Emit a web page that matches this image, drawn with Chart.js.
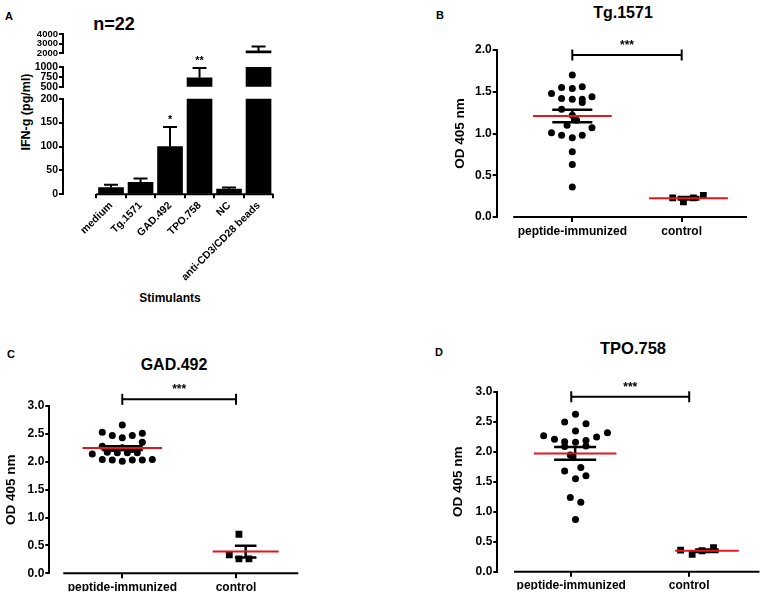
<!DOCTYPE html>
<html>
<head>
<meta charset="utf-8">
<script src="https://cdn.jsdelivr.net/npm/chart.js@4.4.0/dist/chart.umd.min.js"></script>
<style>
body { margin: 0; background: #fff; }
#wrap { position: relative; width: 767px; height: 598px; overflow: hidden; background: #fff;
        font-family: "Liberation Sans", Arial, sans-serif; font-weight: bold; color: #000; }
canvas { position: absolute; }
.lbl { position: absolute; white-space: nowrap; transform: translate(-50%, -50%); line-height: 1; }
.rot { transform: translate(-50%, -50%) rotate(-90deg); }
</style>
</head>
<body>
<div id="wrap">
  <div class="lbl" style="left:9px;top:16px;font-size:11px">A</div>
  <div class="lbl" style="left:114px;top:24px;font-size:18px">n=22</div>
  <div class="lbl rot" style="left:26px;top:112px;font-size:12.5px">IFN-g (pg/ml)</div>
  <div class="lbl" style="left:170px;top:298px;font-size:12px">Stimulants</div>

  <div class="lbl" style="left:440px;top:15px;font-size:11px">B</div>
  <div class="lbl" style="left:623px;top:13px;font-size:16px">Tg.1571</div>

  <div class="lbl" style="left:11px;top:354px;font-size:11px">C</div>
  <div class="lbl" style="left:174px;top:365px;font-size:16px">GAD.492</div>

  <div class="lbl" style="left:439px;top:352px;font-size:11px">D</div>
  <div class="lbl" style="left:633px;top:348px;font-size:16.5px">TPO.758</div>

  <canvas id="aTop" width="330" height="70" style="left:0;top:0"></canvas>
  <canvas id="aMid" width="330" height="45" style="left:0;top:55px"></canvas>
  <canvas id="aLow" width="330" height="215" style="left:0;top:88px"></canvas>
  <canvas id="chartB" width="327" height="220" style="left:440px;top:30px"></canvas>
  <canvas id="chartC" width="330" height="215" style="left:0;top:380px"></canvas>
  <canvas id="chartD" width="327" height="225" style="left:440px;top:370px"></canvas>
</div>
<script>
// Panel A: IFN-g (pg/ml), mean and SEM per stimulant
const stimulants = ['medium', 'Tg.1571', 'GAD.492', 'TPO.758', 'NC', 'anti-CD3/CD28 beads'];
const ifnMean = [14, 25, 100, 725, 11, 2250];
const ifnSem = [6, 8, 41, 250, 3, 450];
const ifnStars = ['', '', '*', '**', '', ''];

// Panels B-D: OD 405 nm per mouse (x = column position with scatter offset)
const groups = ['peptide-immunized', 'control'];

// Tg.1571
const tgPepX = [0, -0.19, -0.098, 0, 0.091, 0.18, -0.098, 0, 0.091, 0.091, -0.098, 0, 0.039, -0.048, 0.18, -0.19, -0.098, 0, 0.091, 0, 0, 0];
const tgPepY = [1.70, 1.48, 1.55, 1.54, 1.56, 1.44, 1.42, 1.41, 1.41, 1.37, 1.29, 1.22, 1.16, 1.10, 1.07, 1.01, 0.98, 0.95, 0.98, 0.78, 0.63, 0.36];
const tgCtrlX = [0.918, 1.016, 1.107, 1.198];
const tgCtrlY = [0.23, 0.18, 0.23, 0.26];
const tgMean = [1.21, 0.225];
const tgSem = [0.075, 0.015];

// GAD.492
const gadPepX = [0, -0.176, -0.088, 0, 0.088, 0.176, 0.176, -0.176, -0.088, 0, 0.088, -0.264, -0.132, -0.044, 0.044, 0.132, -0.176, -0.088, 0, 0.088, 0.176, 0.264];
const gadPepY = [2.66, 2.53, 2.47, 2.43, 2.47, 2.51, 2.35, 2.28, 2.24, 2.25, 2.22, 2.14, 2.17, 2.16, 2.16, 2.16, 2.04, 2.03, 2.01, 2.03, 2.03, 2.04];
const gadCtrlX = [1.026, 0.941, 1.026, 1.114];
const gadCtrlY = [0.70, 0.33, 0.26, 0.26];
const gadMean = [2.245, 0.39];
const gadSem = [0.035, 0.105];

// TPO.758
const tpoPepX = [0.036, -0.056, 0.125, 0.036, -0.234, 0.307, -0.142, -0.056, 0.036, 0.125, 0.215, -0.056, 0.125, -0.008, -0.056, 0.081, 0.036, 0.125, -0.008, 0.081, 0.036, 0.01];
const tpoPepY = [2.63, 2.50, 2.47, 2.35, 2.27, 2.32, 2.21, 2.17, 2.16, 2.19, 2.25, 2.09, 2.10, 1.95, 1.68, 1.74, 1.55, 1.60, 1.24, 1.16, 0.87, 1.92];
const tpoCtrlX = [0.927, 1.025, 1.109, 1.206];
const tpoCtrlY = [0.36, 0.29, 0.35, 0.40];
const tpoMean = [1.975, 0.35];
const tpoSem = [0.107, 0.02];

Chart.defaults.font.family = '"Liberation Sans", Arial, sans-serif';
Chart.defaults.color = '#000';

// x axis line that starts a bit right of the y axis (GraphPad style)
function axisLine(from, to) {
    return {
        id: 'axisLine',
        afterDatasetsDraw(chart) {
            const x = chart.scales.x;
            const ctx = chart.ctx;
            const y = chart.chartArea.bottom;
            ctx.save();
            ctx.strokeStyle = '#000';
            ctx.lineWidth = 2;
            ctx.beginPath();
            ctx.moveTo(x.getPixelForValue(from), y);
            ctx.lineTo(to === undefined ? chart.chartArea.right : x.getPixelForValue(to), y);
            ctx.stroke();
            ctx.restore();
        }
    };
}

// significance stars placed with the chart scales
function stars(items, size, dy, inRangeOnly) {
    return {
        id: 'stars',
        afterDatasetsDraw(chart) {
            const xs = chart.scales.x, ys = chart.scales.y;
            const ctx = chart.ctx;
            ctx.save();
            ctx.fillStyle = '#000';
            ctx.font = 'bold ' + size + 'px "Liberation Sans", Arial, sans-serif';
            ctx.textAlign = 'center';
            ctx.textBaseline = 'middle';
            items.forEach(it => {
                if (!it.text) return;
                if (inRangeOnly && (it.y < ys.min || it.y > ys.max)) return;
                ctx.fillText(it.text, xs.getPixelForValue(it.x), ys.getPixelForValue(it.y) - dy);
            });
            ctx.restore();
        }
    };
}

// Panel A is split in three pieces because of the broken y axis
function ifnChart(id, yMin, yMax, step, pad, showX) {
    const bars = stimulants.map((s, i) => ({ x: i, y: ifnMean[i] }));
    const err = [];
    const radii = [];
    stimulants.forEach((s, i) => {
        err.push({ x: i, y: ifnMean[i] }, { x: i, y: ifnMean[i] + ifnSem[i] }, { x: i, y: null });
        radii.push(0, 7, 0);
    });
    const starItems = stimulants.map((s, i) => ({ x: i, y: ifnMean[i] + ifnSem[i], text: ifnStars[i] }));

    new Chart(document.getElementById(id), {
        type: 'bar',
        data: {
            datasets: [
                {
                    type: 'line', data: err, borderColor: '#000', borderWidth: 2,
                    pointStyle: 'line', pointRadius: radii, pointBorderColor: '#000', pointBorderWidth: 2,
                    spanGaps: false, clip: 0, order: 0
                },
                { data: bars, backgroundColor: '#000', barThickness: 25, clip: 0, order: 1 }
            ]
        },
        options: {
            responsive: false,
            animation: false,
            events: [],
            layout: { padding: pad },
            plugins: { legend: { display: false }, tooltip: { enabled: false } },
            scales: {
                x: {
                    type: 'linear', min: -0.98, max: 5.5, display: showX,
                    afterBuildTicks: s => { s.ticks = stimulants.map((c, i) => ({ value: i })); },
                    afterFit: s => { if (showX) s.height = 105; },
                    ticks: {
                        callback: v => stimulants[v], autoSkip: false, minRotation: 45, maxRotation: 45,
                        font: { size: 10.5, weight: 'bold' }, padding: 1
                    },
                    grid: { drawOnChartArea: false, drawTicks: true, tickLength: 4, color: '#000', lineWidth: 2 },
                    border: { display: false }
                },
                y: {
                    min: yMin, max: yMax,
                    afterFit: s => { s.width = 63; },
                    ticks: {
                        stepSize: step, autoSkip: false, callback: v => String(v),
                        font: { size: yMin >= 2000 ? 9.5 : 10.5, weight: 'bold' }, padding: 1
                    },
                    grid: { drawOnChartArea: false, tickLength: 4, color: '#000', lineWidth: 2 },
                    border: { display: true, color: '#000', width: 2 }
                }
            }
        },
        plugins: showX ? [axisLine(-0.5, 5.5), stars(starItems, 11, 7, true)] : [stars(starItems, 11, 7, true)]
    });
}

ifnChart('aTop', 2000, 4000, 1000, { top: 34, bottom: 16.7, left: 0, right: 37.6 }, false);
ifnChart('aMid', 500, 1000, 250, { top: 12, bottom: 13.3, left: 0, right: 37.6 }, false);
ifnChart('aLow', 0, 200, 50, { top: 10.7, bottom: 3.7, left: 0, right: 37.6 }, true);

// Panels B-D: column scatter with mean (red) and SEM (black)
function odChart(id, o) {
    const meanPts = [];
    const semPts = [];
    o.mean.forEach((m, g) => {
        const c = g + o.center[g], h = o.meanHalf[g], e = o.semHalf[g], s = o.sem[g];
        meanPts.push({ x: c - h, y: m }, { x: c + h, y: m }, { x: c, y: null });
        semPts.push({ x: c - e, y: m + s }, { x: c + e, y: m + s }, { x: c, y: null },
                    { x: c - e, y: m - s }, { x: c + e, y: m - s }, { x: c, y: null },
                    { x: c, y: m - s }, { x: c, y: m + s }, { x: c, y: null });
    });

    new Chart(document.getElementById(id), {
        type: 'scatter',
        data: {
            datasets: [
                { data: meanPts, showLine: true, borderColor: '#e3161e', borderWidth: 2, pointRadius: 0, spanGaps: false },
                { data: semPts, showLine: true, borderColor: '#000', borderWidth: 2.5, pointRadius: 0, spanGaps: false },
                {
                    data: o.pepX.map((x, i) => ({ x: x, y: o.pepY[i] })),
                    pointStyle: 'circle', pointRadius: 3.5, backgroundColor: '#000', borderWidth: 0
                },
                {
                    data: o.ctrlX.map((x, i) => ({ x: x, y: o.ctrlY[i] })),
                    pointStyle: 'rect', pointRadius: 4.8, backgroundColor: '#000', borderWidth: 0
                },
                {
                    data: [{ x: 0, y: o.sigY }, { x: 1, y: o.sigY }], showLine: true,
                    borderColor: '#000', borderWidth: 2, pointStyle: 'line', rotation: 90,
                    pointRadius: 5.5, pointBorderColor: '#000', pointBorderWidth: 2, clip: false
                }
            ]
        },
        options: {
            responsive: false,
            animation: false,
            events: [],
            layout: { padding: o.pad },
            plugins: { legend: { display: false }, tooltip: { enabled: false } },
            scales: {
                x: {
                    type: 'linear', min: o.xMin, max: o.xMax,
                    afterBuildTicks: s => { s.ticks = [{ value: 0 }, { value: 1 }]; },
                    afterFit: s => { s.height = o.xH; },
                    ticks: { callback: v => groups[v], autoSkip: false, maxRotation: 0, font: { size: 12, weight: 'bold' }, padding: 2 },
                    grid: { drawOnChartArea: false, drawTicks: true, tickLength: 5, color: '#000', lineWidth: 2 },
                    border: { display: false }
                },
                y: {
                    min: 0, max: o.yMax,
                    afterFit: s => { s.width = o.yW; },
                    ticks: { stepSize: 0.5, callback: v => v.toFixed(1), font: { size: 12, weight: 'bold' }, padding: 1 },
                    grid: { drawOnChartArea: false, tickLength: 4, color: '#000', lineWidth: 2 },
                    border: { display: true, color: '#000', width: 2 },
                    title: { display: true, text: 'OD 405 nm', font: { size: 13.5, weight: 'bold' }, padding: { top: 0, bottom: 0 } }
                }
            }
        },
        plugins: [axisLine(o.lineFrom), stars([{ x: 0.5, y: o.sigY, text: '***' }], 12, 9.5, false)]
    });
}

odChart('chartB', {
    pepX: tgPepX, pepY: tgPepY, ctrlX: tgCtrlX, ctrlY: tgCtrlY, mean: tgMean, sem: tgSem,
    center: [0, 0.062], meanHalf: [0.36, 0.36], semHalf: [0.183, 0.1],
    sigY: 1.94, yMax: 2, xMin: -0.691, xMax: 1.597, lineFrom: -0.54,
    pad: { top: 20, bottom: 8, left: 11.9, right: 20 }, yW: 44.8, xH: 25
});

odChart('chartC', {
    pepX: gadPepX, pepY: gadPepY, ctrlX: gadCtrlX, ctrlY: gadCtrlY, mean: gadMean, sem: gadSem,
    center: [0, 0.085], meanHalf: [0.35, 0.29], semHalf: [0.18, 0.095],
    sigY: 3.12, yMax: 3, xMin: -0.642, xMax: 1.548, lineFrom: -0.519,
    pad: { top: 26, bottom: 3.7, left: 3.6, right: 31.7 }, yW: 45.7, xH: 18
});

odChart('chartD', {
    pepX: tpoPepX, pepY: tpoPepY, ctrlX: tpoCtrlX, ctrlY: tpoCtrlY, mean: tpoMean, sem: tpoSem,
    center: [0.033, 0.15], meanHalf: [0.35, 0.27], semHalf: [0.178, 0.1],
    sigY: 2.92, yMax: 3, xMin: -0.627, xMax: 1.596, lineFrom: -0.485,
    pad: { top: 22, bottom: 5.3, left: 9.9, right: 3.7 }, yW: 47.4, xH: 18
});
</script>
</body>
</html>
